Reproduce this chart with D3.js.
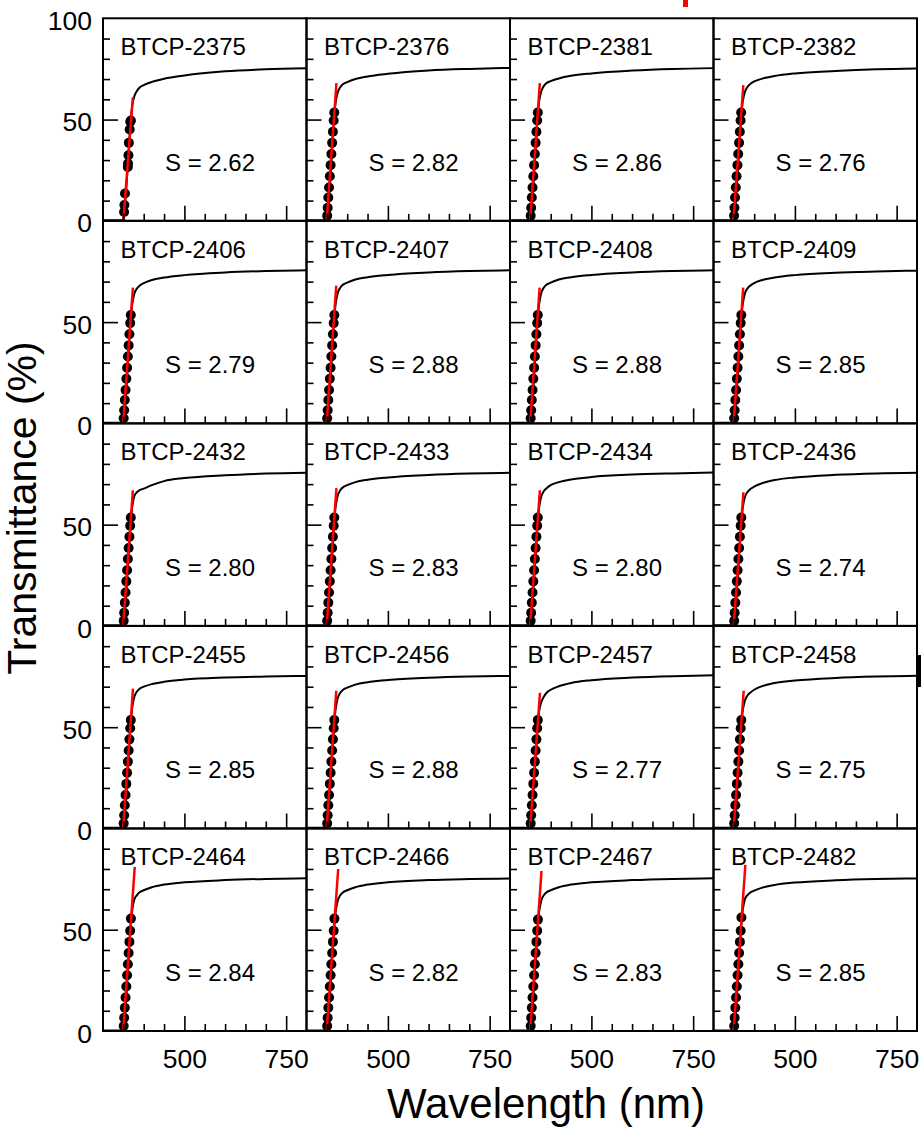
<!DOCTYPE html>
<html>
<head>
<meta charset="utf-8">
<script src="https://cdn.jsdelivr.net/npm/d3@7"></script>
<style>
  body { margin: 0; background: #fff; }
  svg { display: block; }
  text { font-family: "Liberation Sans", Arial, Helvetica, sans-serif; fill: #000; }
</style>
</head>
<body>
<svg id="chart" width="921" height="1130"></svg>
<script>
// Sample identifiers, row by row (4 per row)
const sampleIds = [
  "BTCP-2375", "BTCP-2376", "BTCP-2381", "BTCP-2382",
  "BTCP-2406", "BTCP-2407", "BTCP-2408", "BTCP-2409",
  "BTCP-2432", "BTCP-2433", "BTCP-2434", "BTCP-2436",
  "BTCP-2455", "BTCP-2456", "BTCP-2457", "BTCP-2458",
  "BTCP-2464", "BTCP-2466", "BTCP-2467", "BTCP-2482"
];

// Absorption-edge slope S (% per nm) of the linear fit
const slopeS = [
  2.62, 2.82, 2.86, 2.76,
  2.79, 2.88, 2.88, 2.85,
  2.80, 2.83, 2.80, 2.74,
  2.85, 2.88, 2.77, 2.75,
  2.84, 2.82, 2.83, 2.85
];

// Wavelength (nm) where each fit line crosses 0 %
const fitStart = [
  350.0, 349.5, 349.5, 349.0,
  349.5, 349.5, 349.5, 349.5,
  349.5, 349.5, 349.5, 349.5,
  349.5, 349.5, 349.5, 349.5,
  349.5, 349.5, 349.5, 349.5
];

// Transmittance (%) at the upper end of each fit line
const fitEnd = [
  61, 68, 68, 67,
  67, 68, 67, 67,
  67, 68, 67, 66,
  69, 68, 67, 68,
  81, 80, 79, 82
];

// Wavelengths (nm) at which the transmittance spectra are sampled
const curveWl = [300, 346, 350, 372, 377, 383, 390, 400, 420, 450, 500, 600, 700, 800];

// Transmittance spectra (%) at curveWl, one row per sample
const curveT = [
  [0.3, 0.3, 1.5, 57.0, 61.5, 64.0, 65.8, 67.0, 68.6, 70.2, 71.8, 73.8, 74.8, 75.3],
  [0.3, 0.3, 1.5, 59.0, 63.5, 66.0, 67.5, 68.5, 70.0, 71.3, 72.6, 74.2, 75.0, 75.5],
  [0.3, 0.3, 1.5, 59.5, 64.0, 66.5, 68.0, 69.0, 70.3, 71.6, 72.8, 74.2, 75.0, 75.4],
  [0.3, 0.3, 1.5, 59.0, 63.5, 66.0, 67.5, 68.8, 70.2, 71.5, 72.8, 74.0, 74.8, 75.2],
  [0.3, 0.3, 1.5, 59.0, 64.0, 66.5, 68.0, 69.2, 70.8, 72.0, 73.2, 74.5, 75.2, 75.6],
  [0.3, 0.3, 1.5, 59.5, 64.5, 67.0, 68.5, 69.5, 71.0, 72.2, 73.3, 74.5, 75.2, 75.6],
  [0.3, 0.3, 1.5, 59.5, 64.5, 67.0, 68.5, 69.5, 71.0, 72.2, 73.3, 74.5, 75.2, 75.6],
  [0.3, 0.3, 1.5, 59.0, 64.0, 66.5, 68.0, 69.3, 70.8, 72.0, 73.2, 74.4, 75.0, 75.4],
  [0.3, 0.3, 1.5, 59.0, 64.0, 66.0, 67.0, 67.8, 69.5, 71.5, 73.0, 74.4, 75.2, 75.6],
  [0.3, 0.3, 1.5, 59.5, 64.5, 67.0, 68.5, 69.5, 71.0, 72.2, 73.3, 74.5, 75.2, 75.6],
  [0.3, 0.3, 1.5, 59.0, 64.0, 66.5, 68.0, 69.5, 71.0, 72.3, 73.5, 74.7, 75.3, 75.7],
  [0.3, 0.3, 1.5, 58.5, 63.5, 66.0, 67.5, 68.8, 70.5, 72.0, 73.3, 74.6, 75.3, 75.6],
  [0.3, 0.3, 1.5, 60.0, 65.0, 67.5, 69.0, 70.0, 71.3, 72.4, 73.5, 74.5, 75.0, 75.3],
  [0.3, 0.3, 1.5, 59.5, 64.5, 67.0, 68.5, 69.5, 71.0, 72.2, 73.3, 74.4, 75.0, 75.3],
  [0.3, 0.3, 1.5, 58.5, 62.5, 65.0, 67.0, 68.5, 70.2, 71.8, 73.2, 74.5, 75.2, 75.6],
  [0.3, 0.3, 1.5, 58.5, 63.0, 65.5, 67.0, 68.5, 70.3, 71.8, 73.0, 74.3, 75.0, 75.4],
  [0.3, 0.3, 1.5, 60.0, 65.0, 67.0, 68.5, 69.5, 71.0, 72.3, 73.4, 74.5, 75.1, 75.4],
  [0.3, 0.3, 1.5, 59.5, 64.5, 67.0, 68.5, 69.5, 71.0, 72.3, 73.4, 74.5, 75.0, 75.3],
  [0.3, 0.3, 1.5, 59.5, 64.5, 67.0, 68.5, 69.5, 71.0, 72.3, 73.4, 74.5, 75.1, 75.4],
  [0.3, 0.3, 1.5, 60.0, 65.0, 67.0, 68.3, 69.3, 70.8, 72.1, 73.3, 74.4, 75.0, 75.3]
];

// Fitted points on the absorption edge: wavelength (nm) and transmittance (%)
const dotWl = [
  [351.8, 352.5, 354.0, 361.0, 361.5, 362.5, 363.5, 365.5, 367.0, 368.5],
  [350.8, 352.0, 353.6, 355.4, 357.3, 359.2, 361.1, 363.0, 364.9, 366.8, 368.3],
  [350.8, 352.0, 353.6, 355.4, 357.3, 359.2, 361.1, 363.0, 364.9, 366.8, 368.3],
  [350.5, 351.5, 353.0, 354.8, 356.7, 358.8, 360.7, 362.8, 364.7, 366.6, 368.0],
  [350.8, 352.0, 353.6, 355.4, 357.3, 359.2, 361.1, 363.0, 364.9, 366.8, 368.3],
  [350.8, 352.0, 353.6, 355.4, 357.3, 359.2, 361.1, 363.0, 364.9, 366.8, 368.3],
  [350.8, 352.0, 353.6, 355.4, 357.3, 359.2, 361.1, 363.0, 364.9, 366.8, 368.3],
  [350.8, 352.0, 353.6, 355.4, 357.3, 359.2, 361.1, 363.0, 364.9, 366.8, 368.3],
  [350.8, 352.0, 353.6, 355.4, 357.3, 359.2, 361.1, 363.0, 364.9, 366.8, 368.3],
  [350.8, 352.0, 353.6, 355.4, 357.3, 359.2, 361.1, 363.0, 364.9, 366.8, 368.3],
  [350.8, 352.0, 353.6, 355.4, 357.3, 359.2, 361.1, 363.0, 364.9, 366.8, 368.3],
  [350.8, 352.0, 353.6, 355.4, 357.3, 359.2, 361.1, 363.0, 364.9, 366.8, 368.3],
  [350.8, 352.0, 353.6, 355.4, 357.3, 359.2, 361.1, 363.0, 364.9, 366.8, 368.3],
  [350.8, 352.0, 353.6, 355.4, 357.3, 359.2, 361.1, 363.0, 364.9, 366.8, 368.3],
  [350.8, 352.0, 353.6, 355.4, 357.3, 359.2, 361.1, 363.0, 364.9, 366.8, 368.3],
  [350.8, 352.0, 353.6, 355.4, 357.3, 359.2, 361.1, 363.0, 364.9, 366.8, 368.3],
  [350.8, 352.0, 353.6, 355.4, 357.3, 359.2, 361.1, 363.0, 364.9, 366.8, 368.6],
  [350.8, 352.0, 353.6, 355.4, 357.3, 359.2, 361.1, 363.0, 364.9, 366.8, 368.6],
  [350.8, 352.0, 353.6, 355.4, 357.3, 359.2, 361.1, 363.0, 364.9, 366.8, 368.6],
  [350.8, 352.0, 353.6, 355.4, 357.3, 359.2, 361.1, 363.0, 364.9, 366.8, 368.6]
];
const dotT = [
  [4.4, 7.8, 13.5, 26.6, 28.3, 32.4, 38.5, 45.1, 48.9, 49.5],
  [2.5, 6.5, 11.5, 16.5, 22.0, 27.5, 33.0, 38.5, 44.0, 49.5, 53.5],
  [2.5, 6.5, 11.5, 16.5, 22.0, 27.5, 33.0, 38.5, 44.0, 49.5, 53.5],
  [2.5, 6.5, 11.5, 16.5, 22.0, 27.5, 33.0, 38.5, 44.0, 49.5, 53.5],
  [2.5, 6.5, 11.5, 16.5, 22.0, 27.5, 33.0, 38.5, 44.0, 49.5, 53.5],
  [2.5, 6.5, 11.5, 16.5, 22.0, 27.5, 33.0, 38.5, 44.0, 49.5, 53.5],
  [2.5, 6.5, 11.5, 16.5, 22.0, 27.5, 33.0, 38.5, 44.0, 49.5, 53.5],
  [2.5, 6.5, 11.5, 16.5, 22.0, 27.5, 33.0, 38.5, 44.0, 49.5, 53.5],
  [2.5, 6.5, 11.5, 16.5, 22.0, 27.5, 33.0, 38.5, 44.0, 49.5, 53.5],
  [2.5, 6.5, 11.5, 16.5, 22.0, 27.5, 33.0, 38.5, 44.0, 49.5, 53.5],
  [2.5, 6.5, 11.5, 16.5, 22.0, 27.5, 33.0, 38.5, 44.0, 49.5, 53.5],
  [2.5, 6.5, 11.5, 16.5, 22.0, 27.5, 33.0, 38.5, 44.0, 49.5, 53.5],
  [2.5, 6.5, 11.5, 16.5, 22.0, 27.5, 33.0, 38.5, 44.0, 49.5, 53.5],
  [2.5, 6.5, 11.5, 16.5, 22.0, 27.5, 33.0, 38.5, 44.0, 49.5, 53.5],
  [2.5, 6.5, 11.5, 16.5, 22.0, 27.5, 33.0, 38.5, 44.0, 49.5, 53.5],
  [2.5, 6.5, 11.5, 16.5, 22.0, 27.5, 33.0, 38.5, 44.0, 49.5, 53.5],
  [2.5, 6.5, 11.5, 16.5, 22.0, 27.5, 33.0, 38.5, 44.0, 49.5, 55.5],
  [2.5, 6.5, 11.5, 16.5, 22.0, 27.5, 33.0, 38.5, 44.0, 49.5, 55.5],
  [2.5, 6.5, 11.5, 16.5, 22.0, 27.5, 33.0, 38.5, 44.0, 49.5, 55.0],
  [2.5, 6.5, 11.5, 16.5, 22.0, 27.5, 33.0, 38.5, 44.0, 49.5, 56.0]
];

// Axis ticks and labels
const xDomain = [300, 800];
const yDomain = [0, 100];
const xMinorTicks = [350, 400, 450, 550, 600, 650, 700];
const xMajorTicks = [500, 750];
const yMinorTicks = [10, 20, 30, 40, 60, 70, 80, 90];
const yMajorTicks = [50];
const yLabelTicks = [0, 50];
const yTopLabel = [100];
const xLabelTicks = [500, 750];

// Layout of the panel grid
const nCols = 4, nRows = 5;
const gridLeft = 103, gridTop = 18.3, gridRight = 917, gridBottom = 1031;
const panelW = (gridRight - gridLeft) / nCols;
const panelH = (gridBottom - gridTop) / nRows;

const svg = d3.select("#chart");
svg.append("rect").attr("width", 921).attr("height", 1130).attr("fill", "#fff");

const x = d3.scaleLinear().domain(xDomain).range([0, panelW]);
const y = d3.scaleLinear().domain(yDomain).range([panelH, 0]);

const spectrum = d3.line()
  .x(d => x(d[0]))
  .y(d => y(d[1]))
  .curve(d3.curveMonotoneX);

const grid = svg.append("g");

sampleIds.forEach((id, i) => {
  const col = i % nCols, row = Math.floor(i / nCols);
  const g = grid.append("g")
    .attr("transform", `translate(${gridLeft + col * panelW},${gridTop + row * panelH})`);

  const clipId = `clip-${i}`;
  g.append("clipPath").attr("id", clipId)
    .append("rect").attr("width", panelW).attr("height", panelH);

  const plot = g.append("g").attr("clip-path", `url(#${clipId})`);

  // measured spectrum
  const pts = curveWl.map((w, k) => [w, curveT[i][k]]);
  plot.append("path")
    .attr("d", spectrum(pts))
    .attr("fill", "none")
    .attr("stroke", "#000")
    .attr("stroke-width", 2)
    .attr("stroke-linejoin", "round");

  // points used in the edge fit
  plot.selectAll("circle")
    .data(dotWl[i].map((w, k) => [w, dotT[i][k]]))
    .join("circle")
    .attr("cx", d => x(d[0]))
    .attr("cy", d => y(d[1]))
    .attr("r", 5)
    .attr("fill", "#000");

  // linear fit of the absorption edge, slope S
  const w0 = fitStart[i];
  const w1 = w0 + fitEnd[i] / slopeS[i];
  plot.append("line")
    .attr("x1", x(w0)).attr("y1", y(0))
    .attr("x2", x(w1)).attr("y2", y(fitEnd[i]))
    .attr("stroke", "#ff0000")
    .attr("stroke-width", 2.5);

  // inward ticks: left edge
  const yMinor = d3.axisRight(y).tickValues(yMinorTicks).tickSize(7).tickFormat("");
  const yMajor = d3.axisRight(y).tickValues(yMajorTicks).tickSize(15).tickFormat("");
  [yMinor, yMajor].forEach(ax => {
    const a = g.append("g").call(ax);
    a.select(".domain").remove();
    a.selectAll("line").attr("stroke", "#000").attr("stroke-width", 1.6);
  });

  // inward ticks: bottom edge
  const xMinor = d3.axisTop(x).tickValues(xMinorTicks).tickSize(7).tickFormat("");
  const xMajor = d3.axisTop(x).tickValues(xMajorTicks).tickSize(15).tickFormat("");
  [xMinor, xMajor].forEach(ax => {
    const a = g.append("g").attr("transform", `translate(0,${panelH})`).call(ax);
    a.select(".domain").remove();
    a.selectAll("line").attr("stroke", "#000").attr("stroke-width", 1.6);
  });

  // frame
  g.append("rect")
    .attr("width", panelW).attr("height", panelH)
    .attr("fill", "none").attr("stroke", "#000").attr("stroke-width", 2);

  // sample name
  g.append("text")
    .attr("x", 17.5).attr("y", 37)
    .attr("font-size", 24)
    .text(id);

  // slope annotation
  g.append("text")
    .attr("x", 107).attr("y", 152.5)
    .attr("text-anchor", "middle")
    .attr("font-size", 24)
    .text(`S = ${slopeS[i].toFixed(2)}`);

  // y tick labels on the first column
  if (col === 0) {
    const vals = row === 0 ? yLabelTicks.concat(yTopLabel) : yLabelTicks;
    const a = g.append("g").call(d3.axisLeft(y).tickValues(vals).tickSize(0).tickPadding(11).tickFormat(d3.format("d")));
    a.select(".domain").remove();
    a.selectAll("text")
      .attr("font-size", 26.5)
      .attr("font-family", "'Liberation Sans', Arial, Helvetica, sans-serif")
      .attr("dy", "0.42em");
  }

  // x tick labels on the bottom row
  if (row === nRows - 1) {
    const a = g.append("g").attr("transform", `translate(0,${panelH})`)
      .call(d3.axisBottom(x).tickValues(xLabelTicks).tickSize(0).tickPadding(18).tickFormat(d3.format("d")));
    a.select(".domain").remove();
    a.selectAll("text")
      .attr("font-size", 26.5)
      .attr("font-family", "'Liberation Sans', Arial, Helvetica, sans-serif");
  }
});

// axis titles
svg.append("text")
  .attr("transform", "translate(36,508) rotate(-90)")
  .attr("text-anchor", "middle")
  .attr("font-size", 41)
  .text("Transmittance (%)");

svg.append("text")
  .attr("x", 546).attr("y", 1118)
  .attr("text-anchor", "middle")
  .attr("font-size", 42)
  .text("Wavelength (nm)");

// edge fragments of neighbouring artwork
svg.append("rect").attr("x", 683).attr("y", 0).attr("width", 5).attr("height", 7).attr("fill", "#ff0000");
svg.append("rect").attr("x", 918).attr("y", 655).attr("width", 3).attr("height", 32).attr("fill", "#000");
</script>
</body>
</html>
